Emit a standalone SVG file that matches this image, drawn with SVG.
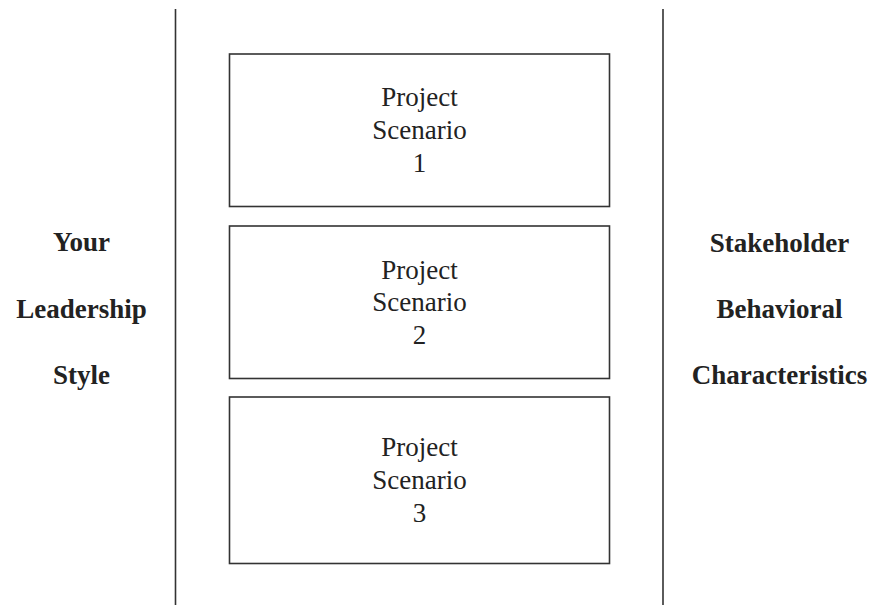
<svg xmlns="http://www.w3.org/2000/svg" width="874" height="606" viewBox="0 0 874 606">
<style>
.box{fill:#fff;stroke:#333;stroke-width:1.6}
.div{stroke:#333;stroke-width:1.6}
.t{font-family:"Liberation Serif","Times New Roman",serif;font-size:27px;fill:#222;text-anchor:middle}
.b{font-weight:bold}
</style>
<rect width="874" height="606" fill="#fff"/>
<g id="dividers">
<line class="div" x1="175.5" y1="9" x2="175.5" y2="605"/>
<line class="div" x1="663" y1="9" x2="663" y2="605"/>
</g>
<g id="left-label">
<text class="t b" x="81.5" y="251">Your</text>
<text class="t b" x="81.5" y="318">Leadership</text>
<text class="t b" x="81.5" y="383.5">Style</text>
</g>
<g id="right-label">
<text class="t b" x="779.5" y="251.5">Stakeholder</text>
<text class="t b" x="779.5" y="318">Behavioral</text>
<text class="t b" x="779.5" y="384">Characteristics</text>
</g>
<g id="scenario1">
<rect class="box" x="229.5" y="54" width="380" height="152.5"/>
<text class="t" x="419.5" y="106">Project</text>
<text class="t" x="419.5" y="138.5">Scenario</text>
<text class="t" x="419.5" y="171.5">1</text>
</g>
<g id="scenario2">
<rect class="box" x="229.5" y="226" width="380" height="152.5"/>
<text class="t" x="419.5" y="279">Project</text>
<text class="t" x="419.5" y="311">Scenario</text>
<text class="t" x="419.5" y="344">2</text>
</g>
<g id="scenario3">
<rect class="box" x="229.5" y="397" width="380" height="166.5"/>
<text class="t" x="419.5" y="456">Project</text>
<text class="t" x="419.5" y="489">Scenario</text>
<text class="t" x="419.5" y="522">3</text>
</g>
</svg>
